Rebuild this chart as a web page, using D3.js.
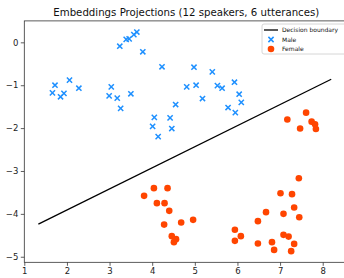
<!DOCTYPE html>
<html>
<head>
<meta charset="utf-8">
<script src="https://cdn.jsdelivr.net/npm/d3@7"></script>
<style>
  body { margin: 0; background: #fff; }
  svg { display: block; font-family: 'DejaVu Sans', sans-serif; }
  .tick text { fill: #222; }
</style>
</head>
<body>
<div id="root"></div>
<script>
var chartTitle = 'Embeddings Projections (12 speakers, 6 utterances)';

var maleX = [1.72, 1.66, 1.85, 1.93, 2.06, 2.28, 3.64, 3.57, 3.46, 3.39, 3.24, 3.78,
  4.23, 4.98, 5.41, 3.04, 2.99, 3.18, 3.50, 3.26, 4.81, 5.03, 5.18, 4.55,
  5.53, 5.64, 5.93, 6.04, 6.09, 5.78, 5.95, 4.05, 4.42, 4.01, 4.46, 4.14];
var maleY = [-1.00, -1.18, -1.27, -1.19, -0.88, -1.07, 0.24, 0.18, 0.08, 0.07, -0.09, -0.22,
  -0.57, -0.58, -0.69, -1.04, -1.25, -1.30, -1.20, -1.54, -1.04, -1.00, -1.31, -1.45,
  -1.01, -1.07, -0.93, -1.21, -1.40, -1.52, -1.64, -1.75, -1.76, -1.96, -2.01, -2.20];

var femaleX = [3.81, 4.04, 4.36, 4.11, 4.29, 4.40, 4.68, 4.96, 4.28, 4.46, 4.56, 4.51,
  5.94, 6.08, 5.94, 7.44, 7.01, 7.28, 7.33, 6.67, 7.08, 7.45, 6.48, 6.48,
  6.81, 6.86, 7.08, 7.20, 7.33, 7.26, 7.61, 7.17, 7.47, 7.74, 7.82, 7.84];
var femaleY = [-3.58, -3.40, -3.40, -3.75, -3.75, -3.93, -4.20, -4.14, -4.25, -4.52, -4.59, -4.66,
  -4.37, -4.52, -4.63, -3.17, -3.52, -3.54, -3.85, -3.96, -4.00, -4.08, -4.17, -4.69,
  -4.66, -4.84, -4.49, -4.53, -4.70, -4.87, -1.64, -1.80, -2.01, -1.85, -1.91, -2.02];

var boundaryX = [1.33, 8.20];
var boundaryY = [-4.24, -0.86];

var xTicks = [1, 2, 3, 4, 5, 6, 7, 8];
var yTicks = [0, -1, -2, -3, -4, -5];

var legendLabels = ['Decision boundary', 'Male', 'Female'];

var width = 344, height = 278;
var padLeft = 24.3, padTop = 20.9;

var svg = d3.select('#root').append('svg')
  .attr('width', width)
  .attr('height', height);

var x = d3.scaleLinear().domain([1, 8.6]).range([padLeft, padLeft + 7.6 * 42.63]);
var y = d3.scaleLinear().domain([0.5, -5.13]).range([padTop, padTop + 5.63 * 42.88]);

var x0 = x.range()[0], x1 = x.range()[1];
var y0 = y.range()[0], y1 = y.range()[1];

// title
svg.append('text')
  .attr('x', (x0 + x1) / 2)
  .attr('y', 16)
  .attr('text-anchor', 'middle')
  .style('font-size', '10.2px')
  .style('fill', '#111')
  .text(chartTitle);

// axes
var xAxis = svg.append('g')
  .attr('transform', 'translate(0,' + y1 + ')')
  .call(d3.axisBottom(x).tickValues(xTicks).tickSize(3.5).tickPadding(2.5).tickFormat(d3.format('d')));
var yAxis = svg.append('g')
  .attr('transform', 'translate(' + x0 + ',0)')
  .call(d3.axisLeft(y).tickValues(yTicks).tickSize(3.5).tickPadding(2.5).tickFormat(d3.format('d')));

[xAxis, yAxis].forEach(function (g) {
  g.select('.domain').remove();
  g.selectAll('.tick line').attr('stroke', '#333').attr('stroke-width', 0.8);
  g.selectAll('.tick text').style('font-size', '8.5px').style('font-family', 'DejaVu Sans, sans-serif');
});

// frame
svg.append('rect')
  .attr('x', x0)
  .attr('y', y0)
  .attr('width', x1 - x0)
  .attr('height', y1 - y0)
  .attr('fill', 'none')
  .attr('stroke', '#333')
  .attr('stroke-width', 0.8);

// decision boundary
svg.append('line')
  .attr('x1', x(boundaryX[0]))
  .attr('y1', y(boundaryY[0]))
  .attr('x2', x(boundaryX[1]))
  .attr('y2', y(boundaryY[1]))
  .attr('stroke', '#000')
  .attr('stroke-width', 1.3);

function cross(g, cx, cy, s) {
  g.append('path')
    .attr('d', 'M' + (cx - s) + ',' + (cy - s) + 'L' + (cx + s) + ',' + (cy + s) +
      'M' + (cx - s) + ',' + (cy + s) + 'L' + (cx + s) + ',' + (cy - s))
    .attr('stroke', '#1e90ff')
    .attr('stroke-width', 1.5)
    .attr('fill', 'none');
}

var males = svg.append('g');
maleX.forEach(function (d, i) {
  cross(males, x(d), y(maleY[i]), 2.6);
});

svg.append('g').selectAll('circle')
  .data(femaleX)
  .enter().append('circle')
  .attr('cx', function (d) { return x(d); })
  .attr('cy', function (d, i) { return y(femaleY[i]); })
  .attr('r', 3.3)
  .attr('fill', '#ff4500');

// legend
var lg = svg.append('g');
lg.append('rect')
  .attr('x', 262)
  .attr('y', 24)
  .attr('width', 84)
  .attr('height', 30)
  .attr('rx', 2)
  .attr('fill', '#fff')
  .attr('fill-opacity', 0.8)
  .attr('stroke', '#ccc')
  .attr('stroke-width', 0.8);

lg.append('line')
  .attr('x1', 264).attr('y1', 30)
  .attr('x2', 278).attr('y2', 30)
  .attr('stroke', '#000')
  .attr('stroke-width', 1.3);
cross(lg, 271, 39.5, 2.6);
lg.append('circle').attr('cx', 271).attr('cy', 49).attr('r', 3.3).attr('fill', '#ff4500');

lg.selectAll('text.leg')
  .data(legendLabels)
  .enter().append('text')
  .attr('class', 'leg')
  .attr('x', 282)
  .attr('y', function (d, i) { return 32.2 + i * 9.5; })
  .style('font-size', '6px')
  .style('fill', '#111')
  .text(function (d) { return d; });
</script>
</body>
</html>
